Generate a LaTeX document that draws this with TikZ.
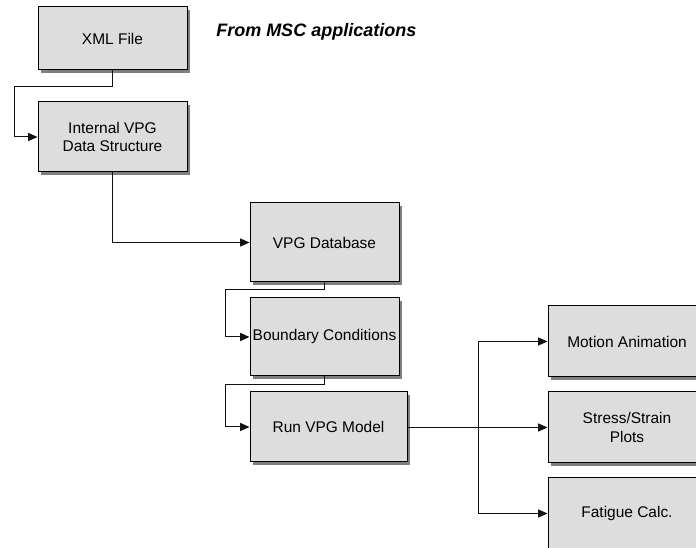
\documentclass[tikz,border=0pt]{standalone}
\usepackage{fontspec}
\setmainfont{Liberation Sans}
\usetikzlibrary{arrows.meta,shadows}
\definecolor{boxgray}{HTML}{DDDDDD}
\definecolor{shadowgray}{HTML}{7F7F7F}
\definecolor{linegray}{HTML}{111111}
\begin{document}
\begin{tikzpicture}[x=0.75pt,y=-0.75pt,
  box/.style={draw=black, line width=0.75pt, fill=boxgray, inner sep=1pt,
    align=center, font=\fontsize{11.6}{14.2}\selectfont,
    general shadow={fill=shadowgray, shadow xshift=2.4pt, shadow yshift=-2.4pt}},
  conn/.style={draw=linegray, line width=0.75pt, -{Triangle[length=7pt,width=6pt]}},
  plain/.style={draw=linegray, line width=0.75pt}]
\useasboundingbox (0,0) rectangle (696,548);
\clip (0,0) rectangle (696,548);
\fill[white] (0,0) rectangle (696,548);

\node[box, minimum width=111.75pt, minimum height=47.25pt] (xml) at (112.5,38.5) {XML File};
\node[box, minimum width=111.75pt, minimum height=52.5pt] (ivpg) at (112.5,137) {Internal VPG\\Data Structure};
\node[box, minimum width=111.75pt, minimum height=59.25pt] (vdb) at (324.5,242.5) {VPG Database};
\node[box, minimum width=111.75pt, minimum height=58.5pt] (bc) at (324.5,337) {Boundary Conditions};
\node[box, minimum width=117.75pt, minimum height=52.5pt] (run) at (328.5,427) {Run VPG Model};
\node[box, minimum width=118.5pt, minimum height=53.25pt] (ma) at (627,341.5) {Motion Animation};
\node[box, minimum width=118.5pt, minimum height=53.25pt] (ss) at (627,427.5) {Stress/Strain\\Plots};
\node[box, minimum width=118.5pt, minimum height=53.25pt] (fc) at (627,513.5) {Fatigue Calc.};

\node[anchor=base west, inner sep=0pt, font=\fontsize{13.5}{16}\selectfont\bfseries\itshape] (title) at (216,37) {From MSC applications};

\draw[conn] (xml.south) -- ++(0,16) -| ([xshift=-17.25pt]ivpg.west) -- (ivpg.west);
\draw[conn] (ivpg.south) |- (vdb.west);
\draw[conn] (vdb.south) -- ++(0,7) -| ([xshift=-18pt]bc.west) -- (bc.west);
\draw[conn] (bc.south) -- ++(0,8) -| ([xshift=-18pt]run.west) -- (run.west);
\draw[conn] (run.east |- ss.west) -- (ss.west);
\coordinate (br) at (478,427.5);
\draw[conn] (br) |- (ma.west);
\draw[conn] (br) |- (fc.west);
\end{tikzpicture}
\end{document}
